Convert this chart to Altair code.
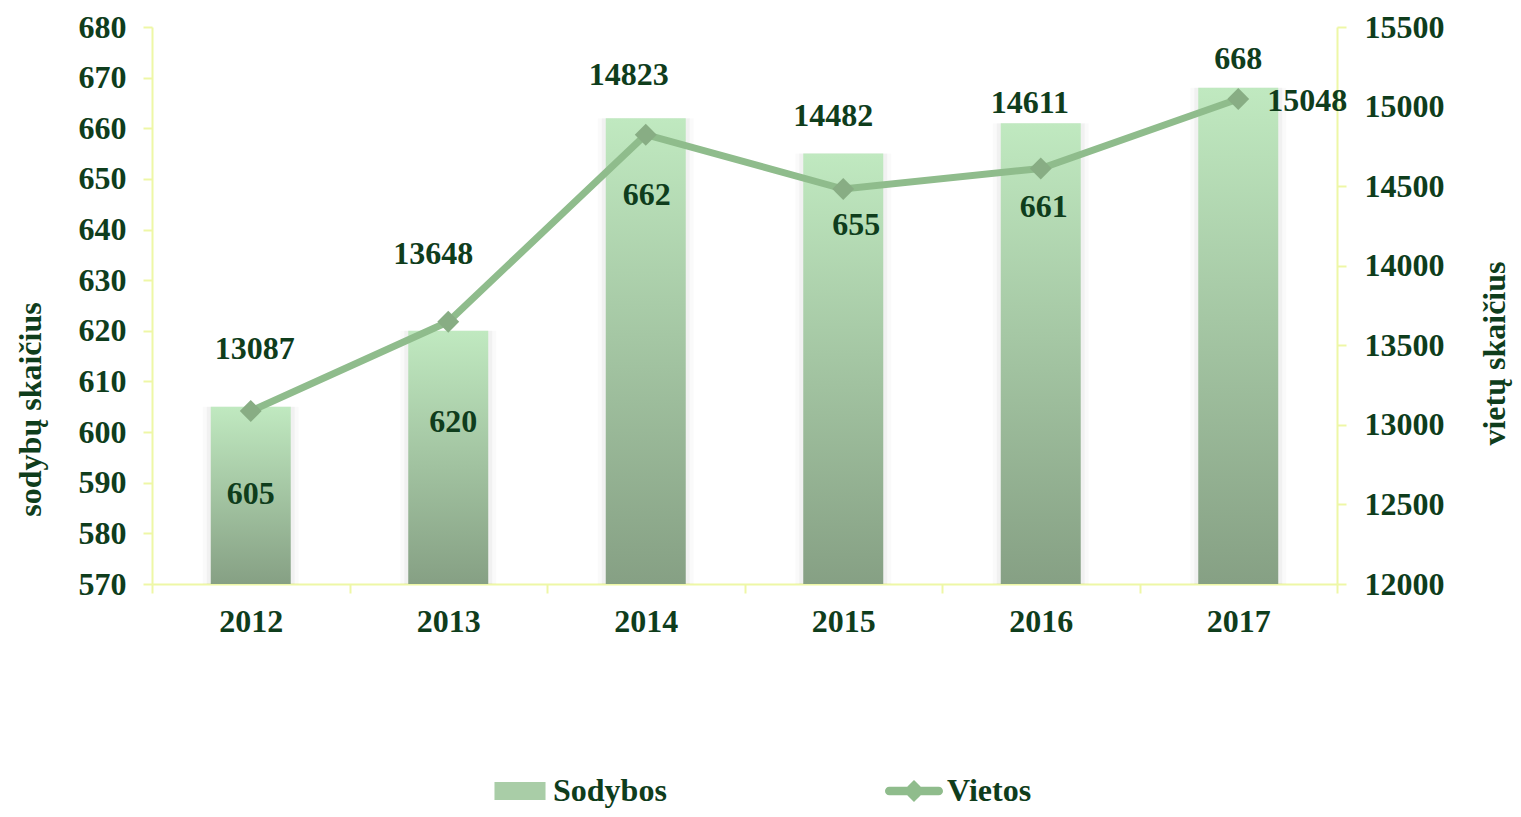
import altair as alt
import pandas as pd

# ---- data ----
years = ["2012", "2013", "2014", "2015", "2016", "2017"]
sodybos = [605, 620, 662, 655, 661, 668]
vietos = [13087, 13648, 14823, 14482, 14611, 15048]
left_ticks = [570, 580, 590, 600, 610, 620, 630, 640, 650, 660, 670, 680]
right_ticks = [12000, 12500, 13000, 13500, 14000, 14500, 15000, 15500]
legend_names = ["Sodybos", "Vietos"]

# ---- layout (pixel offsets of the value labels) ----
bar_label_dx = [0, 5, 1, 13, 3, 0]
bar_label_dy = [87, 91, 77, 71, 84, -29]
line_label_dx = [4, -15, -17, -10, -11, 69]
line_label_dy = [-62, -68, -60, -73, -65, 2]

df = pd.DataFrame({"year": years, "sodybos": sodybos, "vietos": vietos})
legend_df = pd.DataFrame({"name": legend_names})

FONT = "Liberation Serif"
TXT = "#0f3d1c"
AXC = "#eef7a6"
FS = 32

x_enc = alt.X(
    "year:N", sort=years,
    scale=alt.Scale(paddingInner=0, paddingOuter=0),
    axis=alt.Axis(title=None, labelAngle=0, tickBand="extent", domainColor=AXC,
                  domainWidth=2, tickColor=AXC, tickWidth=2, tickSize=9,
                  labelPadding=13, labelFont=FONT, labelFontSize=FS,
                  labelFontWeight="bold", labelColor=TXT, grid=False),
)

y_left = alt.Y(
    "sodybos:Q",
    scale=alt.Scale(domain=[570, 680], nice=False, zero=False),
    axis=alt.Axis(values=left_ticks, title="sodybų skaičius", orient="left",
                  domainColor=AXC, domainWidth=2, tickColor=AXC, tickWidth=2,
                  tickSize=9, labelPadding=17, labelFont=FONT, labelFontSize=FS,
                  labelFontWeight="bold", labelColor=TXT, grid=False,
                  titleFont=FONT, titleFontSize=32, titleFontWeight="bold",
                  titleColor=TXT, titleAngle=270, titleBaseline="middle",
                  titleAlign="center", titleX=-122, titleY=382),
)

y_right = alt.Y(
    "vietos:Q",
    scale=alt.Scale(domain=[12000, 15500], nice=False, zero=False),
    axis=alt.Axis(values=right_ticks, title="vietų skaičius", orient="right",
                  format="d",
                  domainColor=AXC, domainWidth=2, tickColor=AXC, tickWidth=2,
                  tickSize=9, labelPadding=18, labelFont=FONT, labelFontSize=FS,
                  labelFontWeight="bold", labelColor=TXT, grid=False,
                  titleFont=FONT, titleFontSize=32, titleFontWeight="bold",
                  titleColor=TXT, titleAngle=270, titleBaseline="middle",
                  titleAlign="center", titleX=157, titleY=326),
)

grad = alt.Gradient(
    gradient="linear",
    stops=[alt.GradientStop(color="#c0e9c0", offset=0),
           alt.GradientStop(color="#86a084", offset=1)],
    x1=0, x2=0, y1=0, y2=1,
)

base = alt.Chart(df)

shadow1 = base.mark_bar(size=96, color="#000000", opacity=0.02).encode(
    x=x_enc, y=y_left, y2=alt.datum(570))
shadow2 = base.mark_bar(size=88, color="#000000", opacity=0.035).encode(
    x=x_enc, y=y_left, y2=alt.datum(570))
bars = base.mark_bar(size=80, fill=grad).encode(
    x=x_enc, y=y_left, y2=alt.datum(570))

bar_labels = []
for i, yr in enumerate(years):
    bar_labels.append(
        base.transform_filter(alt.datum.year == yr).mark_text(
            dx=bar_label_dx[i], dy=bar_label_dy[i], font=FONT, fontSize=FS,
            fontWeight="bold", color=TXT, baseline="middle", align="center",
        ).encode(x=x_enc, y=y_left, text=alt.Text("sodybos:Q"))
    )

legend = alt.Legend(
    title=None, orient="none", legendX=339, legendY=735, direction="horizontal",
    columnPadding=218, labelFont=FONT, labelFontSize=FS, labelFontWeight="bold",
    labelColor=TXT, symbolSize=3364, labelOffset=4, padding=0,
    symbolOpacity=1, symbolStrokeWidth=0,
)
shape_paths = [
    "M-0.88,-0.31H0.88V0.31H-0.88Z",
    "M-0.85,-0.15H0.85A0.15,0.15 0 0 1 0.85,0.15H-0.85A0.15,0.15 0 0 1 -0.85,-0.15Z"
    "M0,-0.38L0.38,0L0,0.38L-0.38,0Z",
]
legend_layer = alt.Chart(legend_df).mark_point(filled=True, opacity=0).encode(
    x=alt.value(0), y=alt.value(0),
    color=alt.Color("name:N", scale=alt.Scale(domain=legend_names,
                                              range=["#a9cda7", "#8fbc8c"]),
                    legend=legend),
    shape=alt.Shape("name:N", scale=alt.Scale(domain=legend_names, range=shape_paths),
                    legend=legend),
)

left = alt.layer(shadow1, shadow2, bars, *bar_labels, legend_layer)

line = base.mark_line(color="#8fbc8c", strokeWidth=7).encode(x=x_enc, y=y_right)
pts = base.mark_point(shape="diamond", filled=True, size=480, color="#88ad84",
                      opacity=1).encode(x=x_enc, y=y_right)

line_labels = []
for i, yr in enumerate(years):
    line_labels.append(
        base.transform_filter(alt.datum.year == yr).mark_text(
            dx=line_label_dx[i], dy=line_label_dy[i], font=FONT, fontSize=FS,
            fontWeight="bold", color=TXT, baseline="middle", align="center",
        ).encode(x=x_enc, y=y_right, text=alt.Text("vietos:Q"))
    )

right = alt.layer(line, pts, *line_labels)

chart = alt.layer(left, right).resolve_scale(y="independent").properties(
    width=1185, height=557, background="white",
    autosize=alt.AutoSizeParams(type="none"),
    padding={"left": 144, "top": 19, "right": 176, "bottom": 225},
).configure_view(stroke=None)

chart.save("out.html", embed_options={"renderer": "svg", "actions": False})
